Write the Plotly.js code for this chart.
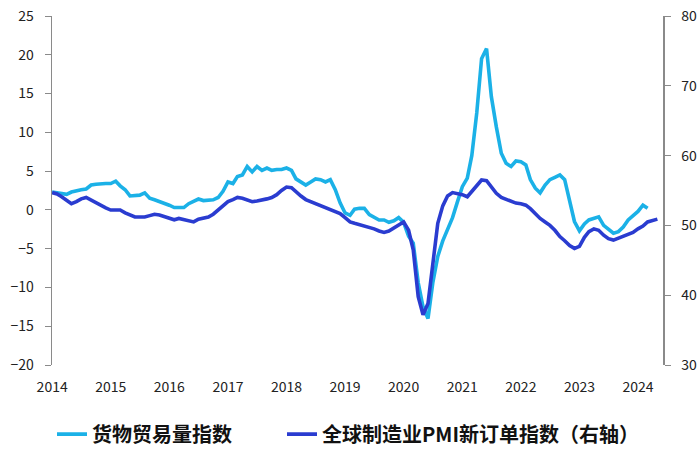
<!DOCTYPE html>
<html>
<head>
<meta charset="utf-8">
<script src="https://cdn.plot.ly/plotly-3.0.1.min.js"></script>
<style>html,body{margin:0;padding:0;background:#fff;}#chart{width:700px;height:455px;}</style>
</head>
<body>
<div id="chart"></div>
<script>
// Monthly data starting 2014-01
const startYear = 2014;
const tradeName = "货物贸易量指数";
const pmiName = "全球制造业PMI新订单指数（右轴）";
const yearTicks = ["2014","2015","2016","2017","2018","2019","2020","2021","2022","2023","2024"];

// 货物贸易量指数 (% YoY, left axis), 2014-01 .. 2024-03
const tradeValues = [
  2.3, 2.2, 2.2, 2.0, 2.3, 2.5, 2.6, 2.7, 3.2, 3.3, 3.4, 3.4,
  3.4, 3.7, 3.1, 2.6, 1.8, 1.8, 1.9, 2.2, 1.5, 1.3, 1.1, 0.9,
  0.6, 0.3, 0.3, 0.3, 0.8, 1.1, 1.4, 1.2, 1.3, 1.3, 1.6, 2.4,
  3.6, 3.4, 4.3, 4.5, 5.6, 4.9, 5.6, 5.1, 5.4, 5.1, 5.2, 5.2,
  5.4, 5.1, 4.0, 3.6, 3.2, 3.6, 4.0, 3.9, 3.6, 3.9, 2.6, 0.9,
  -0.4, -0.7, 0.1, 0.2, 0.2, -0.6, -1.0, -1.3, -1.3, -1.6, -1.4, -1.0,
  -1.6, -3.4, -4.3, -9.4, -12.5, -14.0, -9.4, -6.0, -4.0, -2.5, -1.0, 1.0,
  3.0, 4.1, 7.0, 12.5, 19.5, 20.8, 14.6, 10.7, 7.3, 6.0, 5.6, 6.3,
  6.2, 5.8, 3.9, 2.8, 2.2, 3.2, 3.9, 4.2, 4.5, 3.9, 0.9, -1.5,
  -2.7, -1.8, -1.3, -1.1, -0.9, -2.0, -2.5, -3.0, -2.8, -2.2, -1.3, -0.7,
  -0.2, 0.6, 0.2
];

// 全球制造业PMI新订单指数 (right axis), 2014-01 .. 2024-05
const pmiValues = [
  54.7, 54.5, 54.1, 53.6, 53.1, 53.4, 53.8, 54.0, 53.6, 53.2, 52.8, 52.5,
  52.2, 52.2, 52.2, 51.8, 51.5, 51.2, 51.2, 51.2, 51.4, 51.6, 51.5, 51.3,
  51.0, 50.8, 51.0, 50.8, 50.6, 50.5, 50.9, 51.0, 51.2, 51.6, 52.2, 52.8,
  53.4, 53.7, 54.0, 53.9, 53.6, 53.4, 53.5, 53.6, 53.8, 54.0, 54.4, 55.0,
  55.5, 55.4, 54.8, 54.2, 53.7, 53.4, 53.1, 52.8, 52.5, 52.3, 52.0, 51.7,
  51.1, 50.5, 50.3, 50.1, 50.0, 49.7, 49.5, 49.2, 49.0, 49.2, 49.6, 50.1,
  50.5, 49.3, 46.5, 39.8, 37.2, 38.8, 44.6, 50.3, 52.8, 54.2, 54.7, 54.6,
  54.4, 54.1, 54.8, 55.6, 56.5, 56.4, 55.6, 54.6, 54.0, 53.7, 53.5, 53.2,
  53.1, 52.9, 52.4, 51.7, 51.0, 50.5, 50.0, 49.3, 48.4, 47.8, 47.1, 46.7,
  47.0, 48.3, 49.1, 49.5, 49.3, 48.6, 48.1, 47.9, 48.2, 48.5, 48.7, 49.0,
  49.5, 49.9, 50.5, 50.7, 50.9
];

function monthDates(n) {
  const out = [];
  for (let i = 0; i < n; i++) {
    const y = startYear + Math.floor(i / 12);
    const m = (i % 12) + 1;
    out.push(y + "-" + (m < 10 ? "0" + m : m) + "-01");
  }
  return out;
}

const lightBlue = "#1BB1E7";
const darkBlue = "#2A3CD0";
const axisGrey = "#8a8a8a";
const fontFam = "'Noto Sans CJK SC', 'Noto Sans', sans-serif";
const xRange = ["2013-12-31", "2024-06-05"];
const tickVals = yearTicks.map(y => y + "-01-01");
const legendFont = {family: fontFam, size: 20, color: "#111", weight: "bold"};

const traces = [
  {
    x: monthDates(tradeValues.length), y: tradeValues, name: tradeName,
    type: "scatter", mode: "lines", yaxis: "y", legend: "legend",
    line: {color: lightBlue, width: 3.6}
  },
  {
    x: monthDates(pmiValues.length), y: pmiValues, name: pmiName,
    type: "scatter", mode: "lines", yaxis: "y2", legend: "legend2",
    line: {color: darkBlue, width: 3.6}
  }
];

const layout = {
  width: 700, height: 455,
  margin: {l: 52, r: 37, t: 16, b: 90, autoexpand: false},
  paper_bgcolor: "#fff", plot_bgcolor: "#fff",
  font: {family: fontFam, size: 14, color: "#222"},
  showlegend: true,
  legend: {
    orientation: "h", x: 0, xanchor: "left", y: -0.198, yanchor: "middle",
    font: legendFont, bgcolor: "rgba(0,0,0,0)"
  },
  legend2: {
    orientation: "h", x: 230/611, xanchor: "left", y: -0.198, yanchor: "middle",
    font: legendFont, bgcolor: "rgba(0,0,0,0)"
  },
  xaxis: {
    type: "date", range: xRange, tickvals: tickVals, ticktext: yearTicks,
    showline: false, ticks: "", showgrid: false, zeroline: false,
    ticklabelstandoff: 12, tickfont: {size: 14, color: "#222"}
  },
  xaxis2: {
    type: "date", overlaying: "x", anchor: "free", position: 20/45,
    range: xRange, tickvals: tickVals, showticklabels: false,
    showline: true, linecolor: axisGrey, linewidth: 1.5,
    ticks: "outside", ticklen: 4, tickcolor: axisGrey, tickwidth: 1,
    showgrid: false, zeroline: false
  },
  yaxis: {
    range: [-20, 25], dtick: 5, tick0: 0,
    showline: true, linecolor: axisGrey, linewidth: 1.5,
    ticks: "outside", ticklen: 6, tickcolor: axisGrey, tickwidth: 1,
    showgrid: false, zeroline: false,
    ticklabelstandoff: 8, tickfont: {size: 14, color: "#222"}
  },
  yaxis2: {
    range: [30, 80], dtick: 10, tick0: 30,
    overlaying: "y", side: "right", anchor: "x",
    showline: true, linecolor: axisGrey, linewidth: 1.5,
    ticks: "outside", ticklen: 6, tickcolor: axisGrey, tickwidth: 1,
    showgrid: false, zeroline: false,
    ticklabelstandoff: 8, tickfont: {size: 14, color: "#222"}
  }
};

Plotly.newPlot("chart", traces, layout, {displayModeBar: false, staticPlot: true});
</script>
</body>
</html>
